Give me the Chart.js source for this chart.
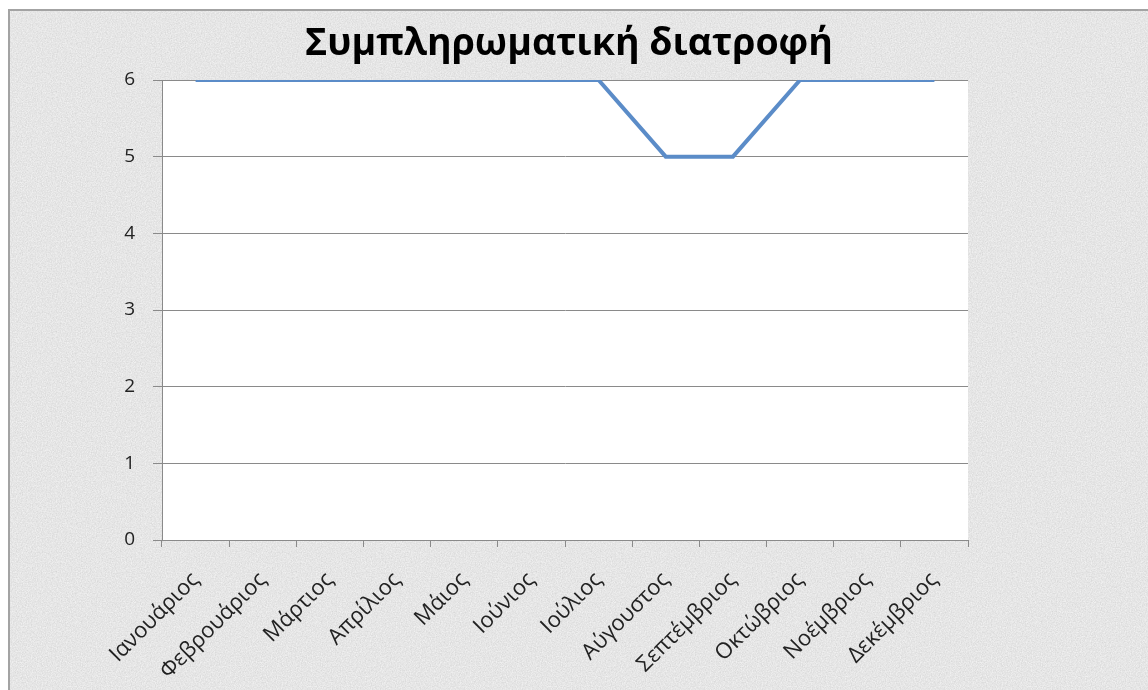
<!DOCTYPE html>
<html>
<head>
<meta charset="utf-8">
<script src="https://cdn.jsdelivr.net/npm/chart.js@4/dist/chart.umd.min.js"></script>
<style>
  body { margin: 0; background: #fff; overflow: hidden; }
  #frame {
    position: absolute; left: 8px; top: 9px; width: 1160px; height: 700px;
    border: 2px solid #a3a3a3;
    background-color: #e8e8e8;
    background-image: url("data:image/svg+xml;utf8,<svg xmlns='http://www.w3.org/2000/svg' width='240' height='240'><filter id='n'><feTurbulence type='fractalNoise' baseFrequency='0.8' numOctaves='3' stitchTiles='stitch'/><feColorMatrix values='0 0 0 0 0.5  0 0 0 0 0.5  0 0 0 0 0.5  0 0 0 0.7 -0.15'/></filter><rect width='100%' height='100%' fill='%23f0f0f0'/><rect width='100%' height='100%' filter='url(%23n)'/></svg>");
  }
  #wrap { position: absolute; left: 0; top: 0; width: 1148px; height: 690px; }
</style>
</head>
<body>
<div id="frame"></div>
<div id="wrap"><canvas id="supplementChart"></canvas></div>
<script>
let months = ["Ιανουάριος", "Φεβρουάριος", "Μάρτιος", "Απρίλιος", "Μάιος", "Ιούνιος",
  "Ιούλιος", "Αύγουστος", "Σεπτέμβριος", "Οκτώβριος", "Νοέμβριος", "Δεκέμβριος"];
let values = [6, 6, 6, 6, 6, 6, 6, 5, 5, 6, 6, 6];
let yTicks = [0, 1, 2, 3, 4, 5, 6];
let title = "Συμπληρωματική διατροφή";

// white plot area on the textured background
let plotBackground = {
  id: "plotBackground",
  beforeDraw(chart) {
    let a = chart.chartArea;
    let ctx = chart.ctx;
    ctx.save();
    ctx.fillStyle = "#ffffff";
    ctx.fillRect(a.left, a.top, a.right - a.left, a.bottom - a.top);
    ctx.restore();
  }
};

let font = "'Open Sans', sans-serif";
let ctx = document.getElementById("supplementChart");
let chart = new Chart(ctx, {
  type: "line",
  data: {
    labels: months,
    datasets: [{
      data: values,
      borderColor: "#5b8cc8",
      borderWidth: 4,
      pointRadius: 0,
      tension: 0,
      fill: false
    }]
  },
  options: {
    responsive: true,
    maintainAspectRatio: false,
    animation: false,
    layout: { padding: { left: 0, right: 10, top: 0, bottom: 0 } },
    plugins: {
      legend: { display: false },
      tooltip: { enabled: false },
      title: {
        display: true,
        text: title,
        color: "#000",
        font: { family: font, size: 37.5, weight: "bold" },
        padding: { top: 22, bottom: 13 }
      }
    },
    scales: {
      x: {
        offset: true,
        grid: {
          offset: true,
          drawOnChartArea: false,
          drawTicks: true,
          tickLength: 7,
          color: "#8a8a8a"
        },
        border: { color: "#8a8a8a", width: 1 },
        ticks: {
          autoSkip: false,
          minRotation: 45,
          maxRotation: 45,
          padding: 20,
          color: "#222",
          font: { family: font, size: 22 }
        },
        afterFit(scale) { scale.height = 150; }
      },
      y: {
        min: 0,
        max: 6,
        afterBuildTicks(scale) { scale.ticks = yTicks.map(v => ({ value: v })); },
        grid: { color: "#8a8a8a", tickLength: 9 },
        border: { color: "#8a8a8a", width: 1 },
        ticks: {
          padding: 18,
          color: "#222",
          font: { family: font, size: 19 }
        },
        afterFit(scale) { scale.width = 162; }
      },
      // empty right axis keeps the textured margin on the right
      yRight: {
        position: "right",
        display: true,
        grid: { drawOnChartArea: false, drawTicks: false },
        border: { display: false },
        ticks: { display: false },
        afterFit(scale) { scale.width = 170; }
      }
    }
  },
  plugins: [plotBackground]
});
</script>
</body>
</html>
